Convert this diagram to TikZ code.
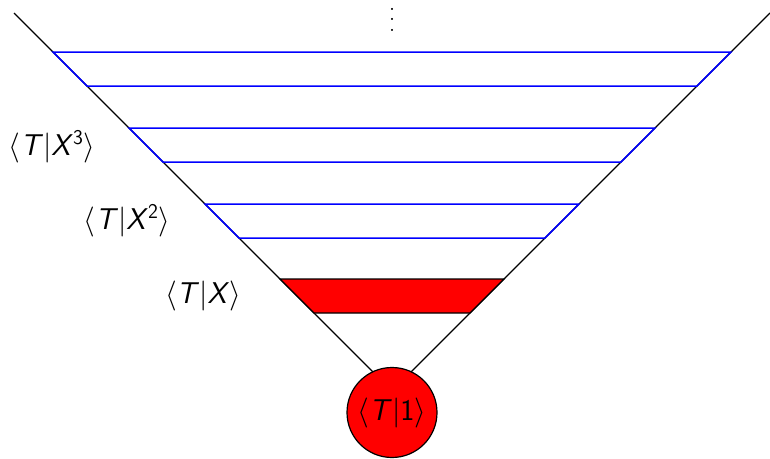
\RequirePackage{fix-cm}
\documentclass[tikz,border=0pt]{standalone}
\usepackage{tikz}
\newcommand{\brk}[1]{$\langle$\textit{T}$|$#1$\rangle$}
\newcommand{\bigvdots}{\vbox{\baselineskip=10.5pt\lineskiplimit=0pt\hbox{.}\hbox{.}\hbox{.}}}
\begin{document}
\begin{tikzpicture}[x=1pt,y=-1pt,
  edge/.style={draw=black,line width=1.2pt},
  band/.style={draw=blue,line width=1.5pt,line join=miter},
  redband/.style={draw=black,fill=red,line width=1.2pt},
  lab/.style={font=\fontsize{30}{34}\selectfont\sffamily,inner sep=0pt}]
\useasboundingbox (0,0) rectangle (770,458);
\coordinate (tl) at (14,13);
\coordinate (tr) at (770,13);
\coordinate (apex) at (392,391);
\draw[edge] (tl) -- (apex) -- (tr);
\foreach \ya/\yb in {52/86,128/162,204/238}{
  \draw[band] (\ya+1,\ya) -- (783-\ya,\ya) -- (783-\yb,\yb) -- (\yb+1,\yb) -- cycle;
}
\draw[redband] (280,279) -- (504,279) -- (470,313) -- (314,313) -- cycle;
\node[circle,draw=black,fill=red,line width=1.2pt,minimum size=90pt,inner sep=0pt,lab] (one) at (392,412.5) {\brk{1}};
\node[lab] (x3) at (52,147) {\brk{\textit{X}\textsuperscript{3}}};
\node[lab] (x2) at (127,221) {\brk{\textit{X}\textsuperscript{2}}};
\node[lab] (x1) at (203,296) {\brk{\textit{X}}};
\node[font=\fontsize{26}{30}\selectfont,inner sep=0pt] (dots) at (392,19.5) {\bigvdots};
\end{tikzpicture}
\end{document}
